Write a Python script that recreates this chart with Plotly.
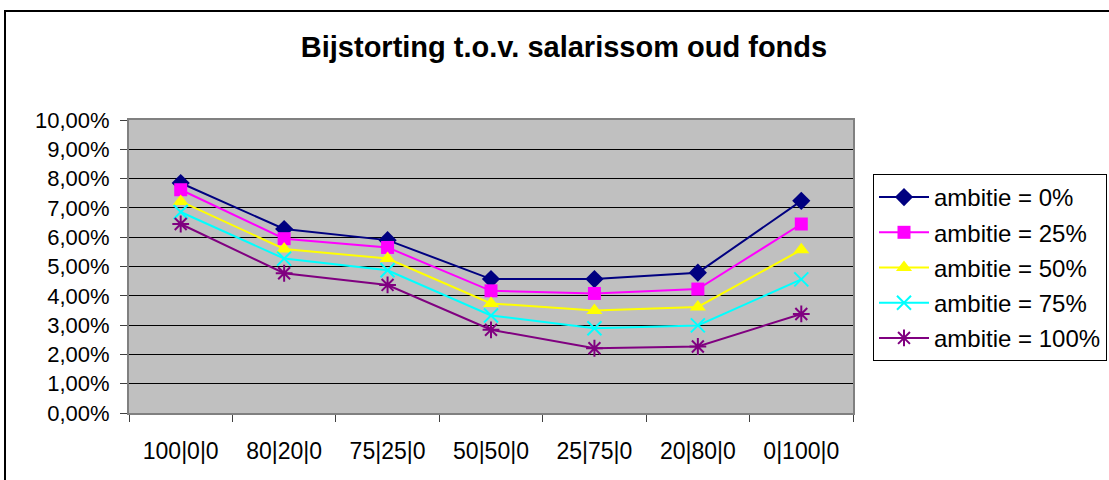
import plotly.graph_objects as go

# Allocation mixes (categories on the x axis)
categories = ["100|0|0", "80|20|0", "75|25|0", "50|50|0", "25|75|0", "20|80|0", "0|100|0"]

# Bijstorting as a fraction of salarissom, one list per ambitie level
ambitie_0 = [0.0785, 0.0628, 0.0590, 0.0457, 0.0457, 0.0479, 0.0724]
ambitie_25 = [0.0762, 0.0595, 0.0565, 0.0417, 0.0408, 0.0423, 0.0645]
ambitie_50 = [0.0722, 0.0560, 0.0527, 0.0374, 0.0350, 0.0362, 0.0557]
ambitie_75 = [0.0686, 0.0527, 0.0487, 0.0333, 0.0289, 0.0299, 0.0456]
ambitie_100 = [0.0645, 0.0477, 0.0437, 0.0284, 0.0221, 0.0227, 0.0338]

series_names = ["ambitie = 0%", "ambitie = 25%", "ambitie = 50%", "ambitie = 75%", "ambitie = 100%"]
series_values = [ambitie_0, ambitie_25, ambitie_50, ambitie_75, ambitie_100]
series_colors = ["#000080", "#FF00FF", "#FFFF00", "#00FFFF", "#800080"]
series_symbols = ["diamond", "square", "triangle-up", "x-thin-open", "asterisk-open"]
series_sizes = [14, 13, 14, 14, 14]

FONT = "Liberation Sans, Arial, sans-serif"

fig = go.Figure()
for i, (name, vals, col, sym, sz) in enumerate(
        zip(series_names, series_values, series_colors, series_symbols, series_sizes)):
    open_sym = sym.endswith("open")
    fig.add_trace(go.Scatter(
        x=categories, y=vals, name=name, mode="lines+markers",
        legendgroup=f"g{i}",
        line=dict(color=col, width=2),
        marker=dict(symbol=sym, size=sz, color=col,
                    line=dict(color=col, width=2 if open_sym else 0)),
    ))

W, H = 1109, 480
L, R, T, B = 129, 853, 120, 413
pw, ph = R - L, B - T

def px_x(x):
    return (x - L) / pw

def px_y(y):
    return (B - y) / ph

fig.update_layout(
    width=W, height=H,
    margin=dict(l=L, r=W - R, t=T, b=H - B, pad=0, autoexpand=False),
    paper_bgcolor="white",
    plot_bgcolor="#C0C0C0",
    separators=",.",
    font=dict(family=FONT, size=23, color="black"),
    title=dict(text="<b>Bijstorting t.o.v. salarissom oud fonds</b>",
               font=dict(family=FONT, size=29, color="black"),
               x=px_x(564), xref="paper", xanchor="center",
               y=1 - 47 / H, yref="container", yanchor="middle"),
    showlegend=True,
    legend=dict(x=px_x(873), y=px_y(174), xanchor="left", yanchor="top",
                bgcolor="white", bordercolor="black", borderwidth=1,
                font=dict(family=FONT, size=24, color="black"),
                traceorder="grouped", tracegroupgap=1, itemwidth=50),
    xaxis=dict(type="category", showgrid=False, tickson="boundaries",
               ticks="outside", ticklen=7, tickcolor="#404040", tickwidth=1,
               showline=True, linecolor="#808080", linewidth=2, mirror=True,
               tickfont=dict(family=FONT, size=23), ticklabelstandoff=16,
               range=[-0.5, 6.5]),
    yaxis=dict(range=[0, 0.10], dtick=0.01, tickformat=".2%",
               showgrid=True, gridcolor="black", gridwidth=1,
               ticks="outside", ticklen=7, tickcolor="#404040", tickwidth=1,
               showline=True, linecolor="#808080", linewidth=2, mirror=True,
               zeroline=False,
               tickfont=dict(family=FONT, size=22), ticklabelstandoff=6),
)

# Outer chart frame
fig.add_shape(type="rect", xref="paper", yref="paper",
              x0=px_x(5), x1=px_x(1130), y0=px_y(11), y1=px_y(500),
              line=dict(color="black", width=2), fillcolor="rgba(0,0,0,0)",
              layer="below")

fig.write_html("out.html")
